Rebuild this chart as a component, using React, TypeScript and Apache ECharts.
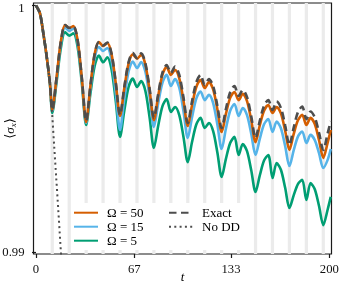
import React, { useEffect, useRef } from "react";
import * as echarts from "echarts";

// time grid (t) shared by the DD curves
const T = [0, 2.7, 5.0, 7.3, 9.5, 11.1, 14.0, 16.9, 19.8, 22.7, 25.5, 28.4, 31.3, 34.2, 37.1, 40.0, 42.9, 45.8, 48.6, 51.5, 54.4, 57.3, 60.2, 63.1, 66.0, 68.9, 71.7, 74.6, 77.5, 80.4, 83.3, 86.2, 89.1, 92.0, 94.8, 97.7, 100.6, 103.5, 106.4, 109.3, 112.2, 115.1, 117.9, 120.8, 123.7, 126.6, 129.5, 132.4, 135.3, 138.2, 141.0, 143.9, 146.8, 149.7, 152.6, 155.5, 158.4, 161.3, 164.1, 167.0, 169.9, 172.8, 175.7, 178.6, 181.5, 184.4, 187.2, 190.1, 193.0, 195.9, 198.8, 201.0];

const OMEGA50 = [1.0, 0.99968, 0.99887, 0.99793, 0.99685,
  0.99577, 0.99708, 0.99852, 0.99921, 0.99909, 0.99917, 0.99859, 0.99703,
  0.99528, 0.99674, 0.99804, 0.99852, 0.99836, 0.99848, 0.99804, 0.99685,
  0.99553, 0.99665, 0.99764, 0.99802, 0.99785, 0.99800, 0.99760, 0.99655,
  0.99536, 0.99633, 0.99719, 0.99751, 0.99719, 0.99739, 0.99705, 0.99614,
  0.99512, 0.99596, 0.99670, 0.99698, 0.99666, 0.99690, 0.99660, 0.99579,
  0.99488, 0.99561, 0.99626, 0.99650, 0.99617, 0.99642, 0.99613, 0.99535,
  0.99447, 0.99515, 0.99574, 0.99597, 0.99565, 0.99589, 0.99563, 0.99493,
  0.99415, 0.99479, 0.99535, 0.99557, 0.99516, 0.99545, 0.99520, 0.99455,
  0.99383, 0.99443, 0.99496];

const EXACT = [1.0, 0.99968, 0.99887, 0.99793, 0.99685,
  0.99577, 0.99708, 0.99852, 0.99921, 0.99909, 0.99917, 0.99859, 0.99705,
  0.99532, 0.99676, 0.99804, 0.99852, 0.99838, 0.99850, 0.99806, 0.99689,
  0.99557, 0.99670, 0.99770, 0.99808, 0.99787, 0.99806, 0.99766, 0.99662,
  0.99545, 0.99641, 0.99727, 0.99759, 0.99727, 0.99753, 0.99719, 0.99627,
  0.99524, 0.99612, 0.99689, 0.99719, 0.99678, 0.99702, 0.99673, 0.99593,
  0.99504, 0.99581, 0.99649, 0.99674, 0.99634, 0.99658, 0.99629, 0.99551,
  0.99464, 0.99533, 0.99594, 0.99617, 0.99577, 0.99611, 0.99585, 0.99515,
  0.99435, 0.99505, 0.99568, 0.99591, 0.99540, 0.99571, 0.99547, 0.99485,
  0.99415, 0.99480, 0.99532];

const OMEGA15 = [1.0, 0.99968, 0.99887, 0.99793, 0.99685,
  0.99573, 0.99701, 0.99843, 0.99911, 0.99897, 0.99907, 0.99849, 0.99696,
  0.99524, 0.99663, 0.99786, 0.99832, 0.99816, 0.99828, 0.99778, 0.99645,
  0.99496, 0.99621, 0.99732, 0.99773, 0.99747, 0.99771, 0.99732, 0.99627,
  0.99508, 0.99603, 0.99687, 0.99719, 0.99674, 0.99702, 0.99667, 0.99571,
  0.99464, 0.99548, 0.99623, 0.99652, 0.99617, 0.99638, 0.99605, 0.99517,
  0.99419, 0.99501, 0.99574, 0.99601, 0.99553, 0.99585, 0.99556, 0.99480,
  0.99395, 0.99460, 0.99519, 0.99540, 0.99488, 0.99530, 0.99503, 0.99431,
  0.99350, 0.99413, 0.99469, 0.99490, 0.99443, 0.99476, 0.99455, 0.99402,
  0.99342, 0.99374, 0.99419];

const OMEGA5 = [1.0, 0.99968, 0.99887, 0.99792, 0.99682,
  0.99565, 0.99689, 0.99826, 0.99892, 0.99878, 0.99887, 0.99832, 0.99683,
  0.99516, 0.99643, 0.99755, 0.99797, 0.99770, 0.99790, 0.99742, 0.99613,
  0.99468, 0.99574, 0.99669, 0.99704, 0.99670, 0.99694, 0.99654, 0.99545,
  0.99423, 0.99512, 0.99592, 0.99621, 0.99569, 0.99589, 0.99556, 0.99467,
  0.99366, 0.99447, 0.99518, 0.99545, 0.99504, 0.99524, 0.99491, 0.99404,
  0.99306, 0.99379, 0.99443, 0.99468, 0.99395, 0.99439, 0.99410, 0.99332,
  0.99245, 0.99312, 0.99372, 0.99395, 0.99302, 0.99362, 0.99335, 0.99262,
  0.99180, 0.99231, 0.99277, 0.99294, 0.99213, 0.99281, 0.99256, 0.99188,
  0.99111, 0.99172, 0.99225];

const T_NODD = [0, 2.7, 5.0, 7.3, 9.5, 11.1, 12.4, 13.8, 15.2, 16.6, 18.0];
const NODD = [1.0, 0.99968, 0.99887, 0.99793, 0.99685, 0.99553, 0.99431, 0.99302, 0.99172, 0.99038, 0.98905];

// pulse times (grey bands)
const PULSES = [11.1, 22.65, 34.2, 45.75, 57.3, 68.85, 80.4, 91.95, 103.5, 115.05, 126.6, 138.15, 149.7, 161.25, 172.8, 184.35, 195.9];

const X_TICKS = [0, 67, 133, 200];
const Y_TICKS = [0.99, 1];

const FONT = '"Liberation Serif", "DejaVu Serif", serif';

export default function App() {
  const ref = useRef<HTMLDivElement>(null);
  useEffect(() => {
    if (!ref.current) return;
    const chart = echarts.init(ref.current, undefined, { renderer: "svg" });
    const pair = (ts: number[], vs: number[]) => ts.map((t, i) => [t, vs[i]]);
    const line = (name: string, color: string, data: number[][], extra: any = {}) => ({
      name,
      type: "line",
      data,
      symbol: "none",
      smooth: 0.3,
      lineStyle: { color, width: 2.6, ...(extra.lineStyle || {}) },
      itemStyle: { color },
      emphasis: { disabled: true },
      silent: true,
      z: 2,
    });
    const legendBase = {
      orient: "vertical", top: 205.7, padding: 0, itemGap: 0,
      itemWidth: 24, itemHeight: 14, selectedMode: false,
      itemStyle: { color: "rgba(0,0,0,0)", borderWidth: 0, opacity: 0 },
      textStyle: { fontFamily: FONT, fontSize: 13, color: "#000", lineHeight: 14, padding: [0, 0, 0, 4] },
    };
    const option: any = {
      animation: false,
      grid: {
        left: 33.5, top: 3, width: 298, height: 251,
        containLabel: false, outerBoundsMode: "none",
        show: true, borderColor: "#1a1a1a", borderWidth: 1.2, backgroundColor: "transparent",
      },
      xAxis: {
        type: "value", min: -1.7, max: 201.5,
        axisLine: { show: false },
        axisTick: { show: true, length: 4, customValues: X_TICKS, lineStyle: { color: "#1a1a1a", width: 1.2 } },
        axisLabel: { customValues: X_TICKS, margin: 8, fontFamily: FONT, fontSize: 12.7, color: "#111" },
        splitLine: { show: false },
      },
      yAxis: {
        type: "value", min: 0.989939, max: 1.000101,
        axisLine: { show: false },
        axisTick: { show: true, length: 4, customValues: Y_TICKS, lineStyle: { color: "#1a1a1a", width: 1.2 } },
        axisLabel: {
          customValues: Y_TICKS, margin: 9, fontFamily: FONT, fontSize: 12.7, color: "#111",
          formatter: (v: number) => (Math.abs(v - 1) < 1e-9 ? "{top|1}" : v.toFixed(2)),
          rich: {
            top: { fontFamily: FONT, fontSize: 12.7, color: "#111", padding: [5, 0, 0, 0] },
          },
        },
        splitLine: { show: false },
      },
      legend: [
        { ...legendBase, left: 73, data: ["Ω = 50", "Ω = 15", "Ω = 5"] },
        { ...legendBase, left: 168, data: ["Exact", "No DD"] },
      ],
      graphic: [
        { type: "rect", z: 3, shape: { x: 71, y: 203, width: 175, height: 47, r: 3 }, style: { fill: "#ffffff" }, silent: true },
        {
          type: "text", z: 5, x: 182.5, y: 276, silent: true,
          style: { text: "t", fontFamily: FONT, fontSize: 13, fontStyle: "italic", fill: "#000", align: "center", verticalAlign: "middle" },
        },
        {
          type: "text", z: 5, x: 9, y: 128.5, rotation: Math.PI / 2, silent: true,
          style: {
            text: "{a|⟨}{b|σ}{c|x}{a|⟩}", fontFamily: FONT, fontSize: 13, fill: "#000",
            align: "center", verticalAlign: "middle",
            rich: {
              a: { fontFamily: FONT, fontSize: 13, lineHeight: 16, fill: "#000" },
              b: { fontFamily: FONT, fontSize: 13, lineHeight: 16, fontStyle: "italic", fill: "#000" },
              c: { fontFamily: FONT, fontSize: 9, lineHeight: 9, fontStyle: "italic", verticalAlign: "bottom", fill: "#000" },
            },
          },
        },
      ],
      series: [
        {
          name: "bands", type: "line", data: [], silent: true, z: 1,
          markArea: {
            silent: true,
            itemStyle: { color: "#ebebeb" },
            label: { show: false },
            data: PULSES.map((p) => [{ xAxis: p - 1.1 }, { xAxis: p + 1.1 }]),
          },
        },
        line("Ω = 5", "#009e73", pair(T, OMEGA5)),
        line("Ω = 15", "#56b4e9", pair(T, OMEGA15)),
        line("Ω = 50", "#d55e00", pair(T, OMEGA50)),
        line("Exact", "#4d4d4d", pair(T, EXACT), { lineStyle: { type: [7.5, 4.5], cap: "butt" } }),
        line("No DD", "#4d4d4d", pair(T_NODD, NODD), { lineStyle: { type: [2, 3.3], width: 2, cap: "butt" } }),
      ],
    };
    chart.setOption(option);
    return () => chart.dispose();
  }, []);
  return <div ref={ref} style={{ position: "fixed", left: 0, top: 0, width: 340, height: 284 }} />;
}
